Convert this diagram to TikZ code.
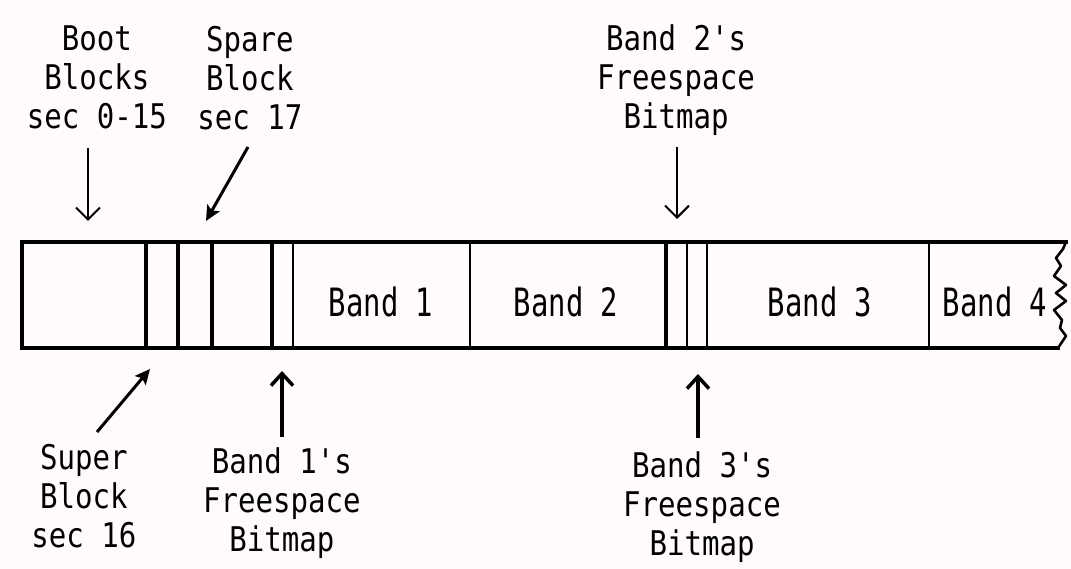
\documentclass[tikz,border=0pt]{standalone}
\usepackage{fontspec}
\newfontfamily\lblfont[FakeStretch=0.855]{DejaVu Sans Mono}
\newfontfamily\bandfont[FakeStretch=0.74]{DejaVu Sans Mono}
\usetikzlibrary{arrows.meta}
\definecolor{bg}{RGB}{255,251,250}
\begin{document}
\begin{tikzpicture}[x=1pt,y=-1pt,
  lbl/.style={align=center,inner sep=0pt,anchor=north,font=\lblfont\fontsize{34}{39}\selectfont},
  bandlbl/.style={inner sep=0pt,anchor=base,font=\bandfont\fontsize{39}{44}\selectfont},
  thickdiv/.style={line width=4.2pt},
  thindiv/.style={line width=2pt},
  border/.style={line width=4.5pt},
  thinarrow/.style={line width=2pt,-{Straight Barb[length=12pt,width=24pt,line width=2pt]}},
  boldarrow/.style={line width=4pt,-{Straight Barb[length=12pt,width=22pt,line width=3.5pt]}},
  diagarrow/.style={line width=3pt,-{Stealth[length=15pt,width=14pt,inset=3pt]}}
]
\fill[bg] (0,0) rectangle (1071,569);
\useasboundingbox (0,0) rectangle (1071,569);

% bar outline
\draw[border,line cap=rect] (1066,242) -- (22,242) -- (22,348) -- (1058,348);
\draw[line width=2.6pt,line join=round] (1066,242) -- (1063,249) -- (1056,258) -- (1061,266)
  -- (1054,276) -- (1066,285) -- (1056,293) -- (1066,301) -- (1054,310)
  -- (1062,320) -- (1060,328) -- (1066,336) -- (1058,348);

% dividers
\foreach \xx in {146,178,212,272,666}
  \draw[thickdiv] (\xx,242) -- (\xx,348);
\foreach \xx in {293,470,687,707,929}
  \draw[thindiv] (\xx,242) -- (\xx,348);

% band labels
\node[bandlbl] (b1) at (381,317) {Band 1};
\node[bandlbl] (b2) at (566,317) {Band 2};
\node[bandlbl] (b3) at (820,317) {Band 3};
\node[bandlbl] (b4) at (995,317) {Band 4};

% top labels
\node[lbl] (boot) at (97,26) {Boot\\Blocks\\sec 0-15};
\node[lbl] (spare) at (250,26) {Spare\\Block\\sec 17};
\node[lbl] (bm2) at (676,24) {Band 2's\\Freespace\\Bitmap};

% bottom labels
\node[lbl] (super) at (84,444) {Super\\Block\\sec 16};
\node[lbl] (bm1) at (282,447) {Band 1's\\Freespace\\Bitmap};
\node[lbl] (bm3) at (702,451) {Band 3's\\Freespace\\Bitmap};

% arrow end points
\coordinate (bootA) at (88,148);  \coordinate (bootB) at (88,221);
\coordinate (spareA) at (248,147); \coordinate (spareB) at (206,221);
\coordinate (bmtwoA) at (677,147); \coordinate (bmtwoB) at (677,219);
\coordinate (superA) at (97,432); \coordinate (superB) at (150,369);
\coordinate (bmoneA) at (282,437); \coordinate (bmoneB) at (282,371);
\coordinate (bmthreeA) at (698,438); \coordinate (bmthreeB) at (698,374);

\draw[thinarrow] (bootA) -- (bootB);
\draw[diagarrow] (spareA) -- (spareB);
\draw[thinarrow] (bmtwoA) -- (bmtwoB);
\draw[diagarrow] (superA) -- (superB);
\draw[boldarrow] (bmoneA) -- (bmoneB);
\draw[boldarrow] (bmthreeA) -- (bmthreeB);
\end{tikzpicture}
\end{document}
